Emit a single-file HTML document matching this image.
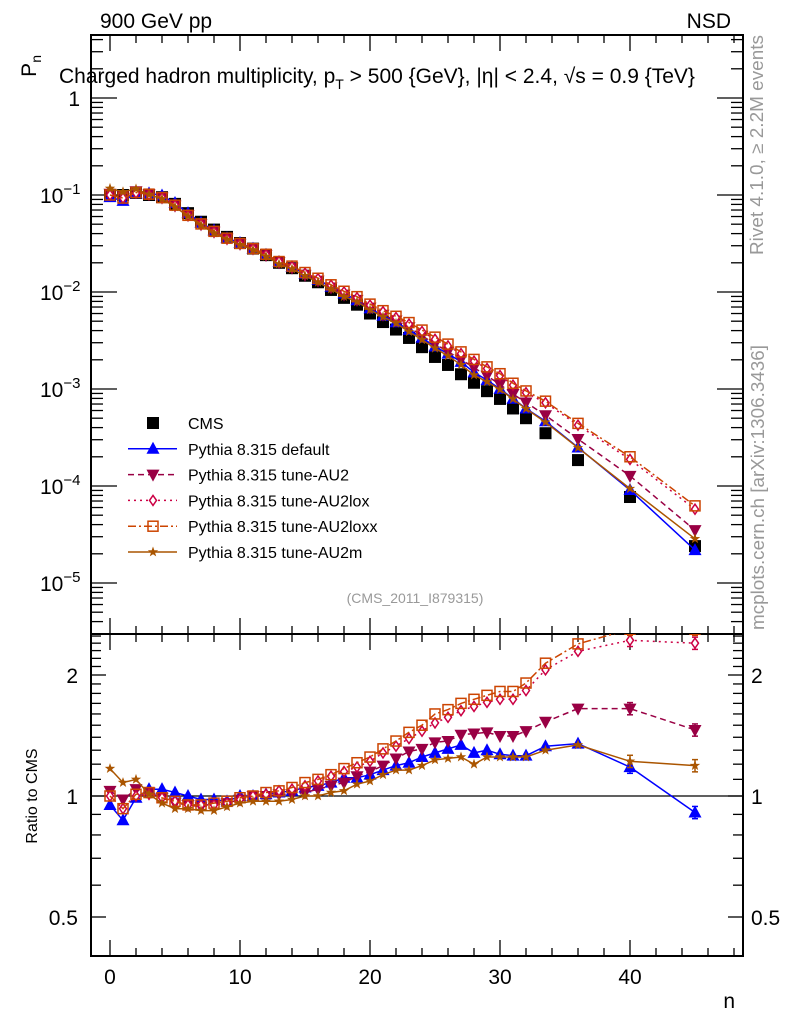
<!DOCTYPE html>
<html><head><meta charset="utf-8"><style>
body{margin:0;background:#fff}
svg{display:block;font-family:"Liberation Sans",sans-serif}
</style></head><body>
<svg id="c" width="786" height="1024" viewBox="0 0 786 1024"></svg>
<script>
const nvals=[0,1,2,3,4,5,6,7,8,9,10,11,12,13,14,15,16,17,18,19,20,21,22,23,24,25,26,27,28,29,30,31,32,33.5,36,40,45];
const cms=[0.1,0.1,0.105,0.1,0.095,0.081,0.065,0.053,0.044,0.037,0.032,0.028,0.024,0.020,0.0176,0.0147,0.0126,0.0105,0.0087,0.0074,0.006,0.0049,0.0041,0.00336,0.0027,0.00214,0.00177,0.00142,0.00116,0.00095,0.00079,0.00063,0.0005,0.00035,0.000185,0.000077,0.000024];
const rDefault=[0.95,0.87,0.99,1.04,1.04,1.02,1.0,0.98,0.98,0.97,1.0,1.0,1.01,1.02,1.03,1.05,1.06,1.08,1.11,1.11,1.13,1.16,1.19,1.21,1.25,1.28,1.31,1.34,1.28,1.3,1.27,1.26,1.26,1.33,1.35,1.18,0.91];
const rAU2=[1.03,0.98,1.04,1.02,0.99,0.96,0.95,0.94,0.95,0.96,0.98,1.0,1.0,1.01,1.01,1.02,1.04,1.06,1.08,1.12,1.15,1.19,1.24,1.29,1.31,1.36,1.37,1.42,1.43,1.44,1.41,1.41,1.45,1.53,1.65,1.65,1.46];
const rAU2lox=[1.0,0.93,1.0,1.01,0.99,0.97,0.95,0.95,0.95,0.96,0.98,1.0,1.01,1.03,1.04,1.06,1.09,1.12,1.15,1.18,1.22,1.28,1.33,1.39,1.45,1.52,1.57,1.63,1.67,1.71,1.74,1.74,1.83,2.06,2.29,2.44,2.4];
const rAU2loxx=[1.0,0.93,1.01,1.02,0.99,0.97,0.95,0.95,0.96,0.97,0.99,1.0,1.02,1.03,1.05,1.08,1.1,1.13,1.17,1.21,1.25,1.31,1.37,1.44,1.5,1.6,1.64,1.7,1.74,1.78,1.82,1.82,1.91,2.14,2.39,2.6,2.6];
const rAU2m=[1.17,1.08,1.1,1.01,0.96,0.93,0.93,0.92,0.92,0.94,0.96,0.97,0.97,0.97,0.98,1.0,1.0,1.02,1.03,1.07,1.09,1.13,1.16,1.16,1.19,1.23,1.24,1.25,1.2,1.25,1.25,1.25,1.25,1.3,1.34,1.22,1.19];
const xTicks=[0,10,20,30,40];
const yTicks=[1,0.1,0.01,0.001,0.0001,0.00001];
const yTickLabels=["1","10","10","10","10","10"];
const yTickExp=["","−1","−2","−3","−4","−5"];
const rTicks=[0.5,1,2];

const svg=document.getElementById('c');
const NS='http://www.w3.org/2000/svg';
function el(t,a,p){const e=document.createElementNS(NS,t);for(const k in a)e.setAttribute(k,a[k]);(p||svg).appendChild(e);return e;}
const L=91,R=743,T=35,MB=634,RB=956;
const X=n=>110+13*n;
const Y=v=>98-97*Math.log10(v);
const RY=r=>796-121*Math.log2(r);

const defs=el('defs',{});
const c1=el('clipPath',{id:'cm'},defs);el('rect',{x:L,y:T,width:R-L,height:MB-T},c1);
const c2=el('clipPath',{id:'cr'},defs);el('rect',{x:L,y:MB,width:R-L,height:RB-MB},c2);

let f=el('rect',{x:L,y:T,width:R-L,height:MB-T,fill:'none',stroke:'#000','stroke-width':2});

f=el('rect',{x:L,y:MB,width:R-L,height:RB-MB,fill:'none',stroke:'#000','stroke-width':2});


const tg=el('g',{stroke:'#000','stroke-width':1.3});

for(let n=-1;n<=48;n++){
  const x=X(n);const big=n%10===0;const len=big?16:(n%2===0?8:0);
  if(!len)continue;
  [[T,1],[MB,-1],[MB,1],[RB,-1]].forEach(([y,d])=>el('line',{x1:x,x2:x,y1:y,y2:y+d*len},tg));
}
for(let e=-6;e<=0;e++){
  for(let m=1;m<10;m++){
    const v=m*Math.pow(10,e);const y=Y(v);if(y<T||y>MB)continue;
    const len=m===1?26:12;
    el('line',{x1:L,x2:L+len,y1:y,y2:y},tg);el('line',{x1:R,x2:R-len,y1:y,y2:y},tg);
  }
}
[0.4,0.5,0.6,0.7,0.8,0.9,1,1.1,1.2,1.3,1.4,1.5,1.6,1.7,1.8,1.9,2,2.1,2.2,2.3,2.4,2.5].forEach(r=>{
  const y=RY(r);if(y<MB||y>RB)return;
  const big=(r===0.5||r===1||r===2);const len=big?15:10;
  el('line',{x1:L,x2:L+len,y1:y,y2:y},tg);el('line',{x1:R,x2:R-len,y1:y,y2:y},tg);
});

function txt(s,a,name){const t=el('text',a);t.textContent=s;return t;}
xTicks.forEach(n=>txt(String(n),{x:X(n),y:984,'font-size':21,'text-anchor':'middle'},'x-tick-label'));
yTicks.forEach((v,i)=>{
  const t=txt(yTickLabels[i],{x:i===0?80:40,y:Y(v)+8,'font-size':21,'text-anchor':i===0?'end':'start'},'y-tick-label');
  if(yTickExp[i]){const s=el('tspan',{dy:-9,'font-size':15},t);s.textContent=yTickExp[i];}
});
rTicks.forEach(r=>txt(String(r),{x:78,y:RY(r)+8,'font-size':21,'text-anchor':'end'},'ratio-tick-label'));
rTicks.forEach(r=>txt(String(r),{x:751,y:RY(r)+8,'font-size':21,'text-anchor':'start'},'ratio-tick-label-right'));
txt('n',{x:735,y:1008,'font-size':21,'text-anchor':'end'},'x-axis-title');
const pn=txt('P',{x:0,y:0,'font-size':21,transform:'translate(36,55) rotate(-90)','text-anchor':'end'},'y-axis-title');
const ps=el('tspan',{dy:5,'font-size':14},pn);ps.textContent='n';
txt('Ratio to CMS',{x:0,y:0,'font-size':16,transform:'translate(37,796) rotate(-90)','text-anchor':'middle'},'ratio-axis-title');
txt('900 GeV pp',{x:100,y:28,'font-size':21},'energy-label');
txt('NSD',{x:731,y:28,'font-size':21,'text-anchor':'end'},'process-label');
const tt=txt('Charged hadron multiplicity, p',{x:59,y:83,'font-size':21},'plot-title');
let ts=el('tspan',{dy:6,'font-size':14},tt);ts.textContent='T';
ts=el('tspan',{dy:-6},tt);ts.textContent=' > 500 {GeV}, |η| < 2.4, √s = 0.9 {TeV}';
txt('(CMS_2011_I879315)',{x:415,y:603,'font-size':14,fill:'#999','text-anchor':'middle'},'analysis-id');
txt('Rivet 4.1.0, ≥ 2.2M events',{x:0,y:0,'font-size':18,fill:'#999',textLength:220,lengthAdjust:'spacingAndGlyphs',transform:'translate(763,255) rotate(-90)'},'rivet-label');
txt('mcplots.cern.ch [arXiv:1306.3436]',{x:0,y:0,'font-size':18,fill:'#999',textLength:285,lengthAdjust:'spacingAndGlyphs',transform:'translate(764,630) rotate(-90)'},'mcplots-label');

const ul=el('line',{x1:L,x2:R,y1:RY(1),y2:RY(1),stroke:'#000','stroke-width':1.3});


function marker(g,type,x,y,col){
  if(type==='sq')el('rect',{x:x-6,y:y-6,width:12,height:12,fill:col},g);
  else if(type==='up')el('polygon',{points:`${x},${y-7} ${x-6.5},${y+5} ${x+6.5},${y+5}`,fill:col},g);
  else if(type==='dn')el('polygon',{points:`${x},${y+7} ${x-6.5},${y-5} ${x+6.5},${y-5}`,fill:col},g);
  else if(type==='dia')el('polygon',{points:`${x},${y-5} ${x-3.5},${y} ${x},${y+5} ${x+3.5},${y}`,fill:'#fff',stroke:col,'stroke-width':1.5},g);
  else if(type==='osq')el('rect',{x:x-5,y:y-5,width:10,height:10,fill:'none',stroke:col,'stroke-width':1.5},g);
  else if(type==='star'){let p=[];for(let i=0;i<10;i++){const r=i%2?2.2:5.5;const a=-Math.PI/2+i*Math.PI/5;p.push((x+r*Math.cos(a)).toFixed(1)+','+(y+r*Math.sin(a)).toFixed(1));}el('polygon',{points:p.join(' '),fill:col},g);}
}
const series=[
 {name:'default',r:rDefault,col:'#0000ff',m:'up',dash:''},
 {name:'au2',r:rAU2,col:'#990044',m:'dn',dash:'6,4'},
 {name:'au2lox',r:rAU2lox,col:'#cc0044',m:'dia',dash:'2,4'},
 {name:'au2loxx',r:rAU2loxx,col:'#cc4400',m:'osq',dash:'8,3,2,3'},
 {name:'au2m',r:rAU2m,col:'#aa5500',m:'star',dash:''}
];
const cg=el('g',{'clip-path':'url(#cm)'});

nvals.forEach((n,i)=>marker(cg,'sq',X(n),Y(cms[i]),'#000'));
series.forEach(s=>{
  const gm=el('g',{'clip-path':'url(#cm)'});
  
  const pts=nvals.map((n,i)=>X(n).toFixed(1)+','+Y(cms[i]*s.r[i]).toFixed(1)).join(' ');
  el('polyline',{points:pts,fill:'none',stroke:s.col,'stroke-width':1.5,'stroke-dasharray':s.dash},gm);
  nvals.forEach((n,i)=>marker(gm,s.m,X(n),Y(cms[i]*s.r[i]),s.col));
  const gr=el('g',{'clip-path':'url(#cr)'});
  
  const rp=nvals.map((n,i)=>X(n).toFixed(1)+','+RY(s.r[i]).toFixed(1)).join(' ');
  el('polyline',{points:rp,fill:'none',stroke:s.col,'stroke-width':1.5,'stroke-dasharray':s.dash},gr);
  nvals.forEach((n,i)=>{
    const x=X(n),y=RY(s.r[i]);
    if(n>=40){const e=s.r[i]*0.035;el('line',{x1:x,x2:x,y1:RY(s.r[i]+e),y2:RY(s.r[i]-e),stroke:s.col,'stroke-width':1.5},gr);
      el('line',{x1:x-3,x2:x+3,y1:RY(s.r[i]+e),y2:RY(s.r[i]+e),stroke:s.col,'stroke-width':1.5},gr);
      el('line',{x1:x-3,x2:x+3,y1:RY(s.r[i]-e),y2:RY(s.r[i]-e),stroke:s.col,'stroke-width':1.5},gr);}
    marker(gr,s.m,x,y,s.col);
  });
});

const lg=el('g',{});

const legNames=['CMS','Pythia 8.315 default','Pythia 8.315 tune-AU2','Pythia 8.315 tune-AU2lox','Pythia 8.315 tune-AU2loxx','Pythia 8.315 tune-AU2m'];
legNames.forEach((nm,i)=>{
  const y=423+25.8*i;
  const e=el('g',{},lg);
  if(i===0)marker(e,'sq',153,y,'#000');
  else{const s=series[i-1];el('line',{x1:128,x2:177,y1:y,y2:y,stroke:s.col,'stroke-width':1.5,'stroke-dasharray':s.dash},e);marker(e,s.m,153,y,s.col);}
  const t=el('text',{x:188,y:y+6,'font-size':16},e);t.textContent=nm;
});
</script>
</body></html>
